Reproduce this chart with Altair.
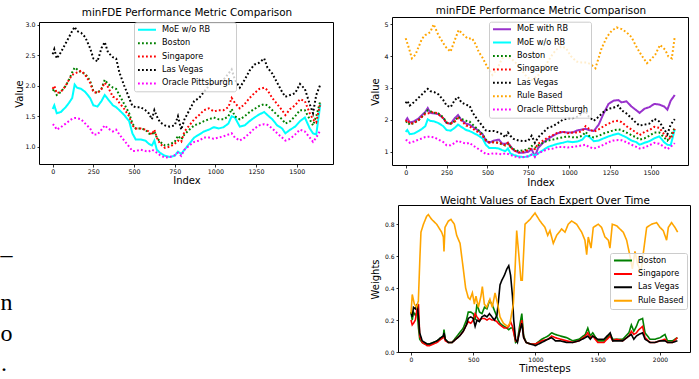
import altair as alt
import pandas as pd

FONT = "DejaVu Sans"
W, H = 699, 379

# ---------------- minFDE series (shared by both top panels) ----------------
idx_ab = [0, 10, 25, 50, 80, 100, 120, 135, 150, 175, 200, 230, 250, 275, 300, 320, 340, 370, 390, 410,
          440, 470, 490, 510, 540, 570, 590, 610, 625, 640, 660, 690, 720, 750, 770, 790, 810, 840, 870, 900,
          930, 960, 990, 1020, 1050, 1080, 1100, 1120, 1150, 1180, 1210, 1240, 1270, 1300, 1320, 1350, 1380,
          1410, 1430, 1460, 1490, 1520, 1550, 1580, 1600, 1620, 1645]
las_vegas = [2.52, 2.60, 2.45, 2.55, 2.70, 2.80, 2.90, 2.97, 2.90, 2.87, 2.80, 2.62, 2.45, 2.40, 2.62, 2.72,
             2.55, 2.47, 2.45, 2.22, 2.00, 1.80, 1.67, 1.65, 1.65, 1.60, 1.55, 1.45, 1.60, 1.50, 1.40, 1.35,
             1.33, 1.35, 1.50, 1.28, 1.45, 1.60, 1.75, 1.80, 1.90, 2.00, 2.05, 2.05, 2.10, 2.20, 2.27, 2.10,
             1.97, 2.10, 2.25, 2.35, 2.38, 2.45, 2.30, 2.20, 2.05, 1.90, 1.82, 1.85, 1.88, 2.03, 1.95, 1.70,
             1.55, 1.85, 2.02]
boston = [1.92, 1.95, 1.85, 1.90, 2.00, 2.10, 2.22, 2.30, 2.27, 2.22, 2.20, 2.08, 1.92, 1.88, 1.95, 2.10,
          2.03, 1.97, 1.95, 1.85, 1.70, 1.55, 1.38, 1.30, 1.30, 1.28, 1.22, 1.20, 1.25, 1.15, 1.08, 1.02,
          1.04, 1.08, 1.18, 1.12, 1.20, 1.28, 1.35, 1.38, 1.42, 1.45, 1.48, 1.45, 1.45, 1.50, 1.62, 1.50,
          1.45, 1.50, 1.57, 1.62, 1.67, 1.70, 1.68, 1.60, 1.52, 1.45, 1.38, 1.42, 1.50, 1.60, 1.60, 1.45,
          1.35, 1.50, 1.75]
singapore = [1.95, 2.00, 1.88, 1.90, 2.00, 2.10, 2.18, 2.20, 2.22, 2.25, 2.18, 2.05, 1.90, 1.88, 1.95, 2.05,
             1.98, 1.82, 1.80, 1.72, 1.62, 1.50, 1.35, 1.30, 1.30, 1.28, 1.25, 1.20, 1.28, 1.15, 1.05, 0.98,
             1.00, 1.05, 1.10, 1.08, 1.25, 1.35, 1.45, 1.52, 1.60, 1.63, 1.58, 1.60, 1.60, 1.65, 1.80, 1.72,
             1.63, 1.70, 1.80, 1.88, 1.95, 1.97, 1.93, 1.80, 1.70, 1.60, 1.52, 1.62, 1.68, 1.78, 1.75, 1.55,
             1.45, 1.40, 1.72]
moe_wo_rb = [1.62, 1.68, 1.55, 1.57, 1.65, 1.72, 1.80, 2.02, 1.97, 1.95, 1.90, 1.80, 1.68, 1.66, 1.75, 1.85,
             1.78, 1.68, 1.65, 1.60, 1.52, 1.42, 1.22, 1.12, 1.12, 1.10, 1.05, 1.02, 1.10, 0.95, 0.90, 0.85,
             0.83, 0.85, 0.92, 0.88, 0.95, 1.05, 1.15, 1.20, 1.25, 1.28, 1.32, 1.30, 1.32, 1.38, 1.50, 1.48,
             1.33, 1.35, 1.42, 1.48, 1.53, 1.57, 1.52, 1.45, 1.35, 1.30, 1.22, 1.28, 1.33, 1.42, 1.48, 1.30,
             1.22, 1.20, 1.70]
oracle_pitt = [1.37, 1.35, 1.28, 1.32, 1.38, 1.42, 1.46, 1.47, 1.47, 1.45, 1.38, 1.30, 1.20, 1.20, 1.28, 1.35,
               1.30, 1.25, 1.28, 1.20, 1.10, 1.00, 0.93, 0.93, 0.95, 0.93, 0.92, 0.95, 0.93, 0.90, 0.86, 0.82,
               0.83, 0.86, 0.90, 0.85, 0.95, 1.02, 1.08, 1.10, 1.15, 1.15, 1.13, 1.15, 1.17, 1.20, 1.22, 1.15,
               1.10, 1.15, 1.22, 1.30, 1.35, 1.37, 1.36, 1.30, 1.22, 1.15, 1.10, 1.13, 1.20, 1.28, 1.25, 1.15,
               1.08, 1.15, 1.27]
moe_with_rb = [1.97, 2.05, 1.92, 1.95, 2.05, 2.15, 2.25, 2.37, 2.22, 2.20, 2.18, 2.05, 1.90, 1.88, 2.05, 2.15,
               2.00, 1.88, 1.85, 1.78, 1.68, 1.55, 1.35, 1.28, 1.35, 1.38, 1.25, 1.25, 1.28, 1.18, 1.05, 0.97,
               0.97, 1.00, 1.08, 0.85, 1.12, 1.28, 1.40, 1.50, 1.58, 1.62, 1.60, 1.60, 1.67, 1.70, 1.72, 1.68,
               1.65, 1.85, 2.20, 2.50, 2.60, 2.62, 2.55, 2.58, 2.42, 2.30, 2.22, 2.35, 2.40, 2.50, 2.48, 2.42,
               2.32, 2.60, 2.78]
idx_rule = [0, 20, 38, 60, 80, 100, 120, 150, 171, 200, 225, 243, 274, 300, 324, 355, 380, 406, 430, 446,
            470, 500, 530, 560, 590, 620, 650, 680, 710, 740, 770, 800, 830, 860, 890, 920, 950, 980, 1010,
            1045, 1075, 1106, 1130, 1160, 1198, 1230, 1260, 1290, 1320, 1350, 1380, 1410, 1440, 1475, 1500,
            1525, 1555, 1586, 1606, 1627, 1645]
rule_based = [4.56, 4.25, 3.93, 4.05, 4.30, 4.55, 4.66, 4.75, 5.00, 4.66, 4.45, 4.30, 4.14, 4.50, 4.82, 4.66,
              4.55, 4.56, 4.35, 4.14, 3.95, 3.65, 3.41, 3.60, 3.93, 4.00, 3.90, 3.75, 3.55, 3.35, 3.25, 3.35,
              3.50, 3.75, 4.00, 4.20, 4.30, 4.25, 4.00, 3.83, 3.80, 3.80, 3.75, 3.62, 4.25, 4.60, 4.80, 4.90,
              4.85, 4.75, 4.60, 4.30, 4.04, 3.78, 3.90, 4.04, 4.35, 4.20, 3.99, 3.93, 4.61]

# ---------------- expert weights over time ----------------
idx_w = [0, 10, 20, 35, 50, 60, 70, 90, 110, 130, 150, 180, 210, 240, 260, 265, 275, 300, 330, 360, 390, 420,
         445, 460, 480, 500, 515, 530, 550, 570, 590, 610, 630, 650, 670, 690, 700, 715, 730, 750, 770, 785,
         800, 815, 825, 840, 855, 870, 890, 905, 925, 960, 1000, 1050, 1100, 1130, 1160, 1200, 1250, 1300,
         1350, 1400, 1420, 1440, 1460, 1500, 1550, 1600, 1620, 1650, 1700, 1750, 1770, 1790, 1810, 1830,
         1860, 1880, 1920, 1960, 2000, 2040, 2060, 2100, 2140]
w_boston = [0.25, 0.20, 0.25, 0.23, 0.25, 0.15, 0.08, 0.06, 0.05, 0.05, 0.05, 0.06, 0.07, 0.09, 0.10, 0.14,
            0.08, 0.06, 0.06, 0.09, 0.12, 0.15, 0.20, 0.25, 0.25, 0.24, 0.20, 0.30, 0.25, 0.24, 0.28, 0.27,
            0.32, 0.30, 0.26, 0.22, 0.20, 0.18, 0.17, 0.16, 0.15, 0.14, 0.15, 0.15, 0.13, 0.06, 0.07, 0.15,
            0.24, 0.10, 0.06, 0.05, 0.05, 0.08, 0.10, 0.12, 0.11, 0.10, 0.09, 0.07, 0.08, 0.11, 0.15, 0.10,
            0.12, 0.07, 0.07, 0.11, 0.08, 0.08, 0.08, 0.12, 0.17, 0.13, 0.16, 0.20, 0.21, 0.12, 0.08, 0.08,
            0.09, 0.11, 0.07, 0.07, 0.09]
w_singapore = [0.20, 0.17, 0.18, 0.20, 0.28, 0.30, 0.10, 0.06, 0.05, 0.04, 0.04, 0.05, 0.06, 0.08, 0.09, 0.11,
               0.07, 0.06, 0.06, 0.08, 0.10, 0.13, 0.17, 0.19, 0.18, 0.20, 0.24, 0.22, 0.20, 0.21, 0.21, 0.20,
               0.21, 0.20, 0.20, 0.19, 0.18, 0.17, 0.16, 0.15, 0.15, 0.16, 0.19, 0.16, 0.12, 0.07, 0.07, 0.12,
               0.20, 0.09, 0.06, 0.05, 0.05, 0.07, 0.08, 0.10, 0.09, 0.08, 0.07, 0.06, 0.07, 0.10, 0.12, 0.09,
               0.10, 0.06, 0.06, 0.10, 0.07, 0.08, 0.07, 0.10, 0.13, 0.11, 0.12, 0.14, 0.16, 0.09, 0.06, 0.06,
               0.07, 0.08, 0.06, 0.06, 0.09]
w_las_vegas = [0.25, 0.22, 0.28, 0.27, 0.30, 0.22, 0.12, 0.07, 0.06, 0.05, 0.05, 0.06, 0.07, 0.09, 0.10, 0.12,
               0.08, 0.06, 0.06, 0.08, 0.10, 0.13, 0.17, 0.21, 0.22, 0.21, 0.16, 0.20, 0.19, 0.22, 0.23, 0.22,
               0.24, 0.22, 0.20, 0.23, 0.30, 0.42, 0.45, 0.48, 0.52, 0.54, 0.48, 0.35, 0.20, 0.08, 0.06, 0.12,
               0.18, 0.09, 0.06, 0.05, 0.04, 0.06, 0.08, 0.09, 0.07, 0.07, 0.06, 0.06, 0.07, 0.09, 0.10, 0.08,
               0.10, 0.08, 0.08, 0.12, 0.07, 0.07, 0.07, 0.10, 0.11, 0.08, 0.10, 0.11, 0.12, 0.08, 0.06, 0.06,
               0.07, 0.07, 0.06, 0.06, 0.07]
idx_w_rule = [0, 10, 27, 45, 59, 72, 80, 100, 126, 139, 166, 206, 246, 260, 265, 273, 300, 321, 348, 367, 394,
              420, 439, 460, 474, 493, 509, 522, 541, 562, 573, 589, 608, 634, 653, 675, 696, 715, 742, 776, 795,
              822, 835, 849, 867, 883, 894, 916, 956, 996, 1036, 1076, 1098, 1116, 1143, 1170, 1210, 1237, 1263,
              1290, 1330, 1371, 1397, 1411, 1424, 1446, 1464, 1504, 1531, 1558, 1585, 1598, 1617, 1652, 1678,
              1705, 1732, 1759, 1778, 1799, 1820, 1847, 1866, 1893, 1933, 1973, 2000, 2026, 2053, 2067, 2093,
              2120, 2142]
w_rule_based = [0.24, 0.36, 0.30, 0.28, 0.32, 0.60, 0.75, 0.80, 0.85, 0.86, 0.83, 0.80, 0.75, 0.72, 0.63, 0.78,
                0.82, 0.83, 0.80, 0.73, 0.68, 0.52, 0.40, 0.34, 0.33, 0.37, 0.30, 0.35, 0.28, 0.35, 0.41, 0.30,
                0.28, 0.33, 0.28, 0.37, 0.30, 0.22, 0.18, 0.16, 0.18, 0.30, 0.50, 0.76, 0.60, 0.45, 0.45, 0.80,
                0.83, 0.87, 0.82, 0.78, 0.73, 0.76, 0.68, 0.73, 0.77, 0.75, 0.80, 0.82, 0.80, 0.75, 0.70, 0.61,
                0.72, 0.65, 0.78, 0.80, 0.78, 0.72, 0.70, 0.65, 0.80, 0.79, 0.77, 0.75, 0.70, 0.60, 0.52, 0.63,
                0.55, 0.50, 0.62, 0.78, 0.80, 0.81, 0.78, 0.76, 0.70, 0.78, 0.81, 0.78, 0.75]

# ---------------- paper text fragments at the lower left ----------------
frag_text = ["\u2013", "n", "o", "."]
frag_x = [0.5, 0.5, 0.5, 1.0]
frag_y = [262, 310, 341, 371]

# ---------------- ticks ----------------
ticks_index = [0, 250, 500, 750, 1000, 1250, 1500]
ticks_a_val = [1.0, 1.5, 2.0, 2.5, 3.0]
ticks_b_val = [1, 2, 3, 4, 5]
ticks_time = [0, 500, 1000, 1500, 2000]
ticks_w = [0.0, 0.2, 0.4, 0.6, 0.8]

SOLID = [1, 0]
DOT = [1.8, 2.2]


def long_df(idx, series):
    wide = pd.DataFrame({"x": idx, **series})
    return wide.melt("x", var_name="series", value_name="y")


def panel(df, order, colors, dashes, xdom, xr, ydom, yr, xvals, yvals, xfmt, yfmt,
          xtitle, ytitle, title, xtitle_y, ytitle_x, title_y, leg_xy, line_w, tick_fs):
    xs = alt.Scale(domain=xdom, range=xr, nice=False, zero=False)
    ys = alt.Scale(domain=ydom, range=yr, nice=False, zero=False)
    xc = (xr[0] + xr[1]) / 2
    yc = (yr[0] + yr[1]) / 2
    common = dict(grid=False, domain=False, tickColor="black", tickWidth=0.8, tickSize=2.5,
                  labelFont=FONT, labelColor="black", labelFontSize=tick_fs,
                  titleFont=FONT, titleColor="black", titleFontWeight="normal",
                  titleBaseline="middle", titleAlign="center", labelOverlap=False, labelFlush=False)
    xaxis = alt.Axis(orient="bottom", offset=yr[0] - H, values=xvals, format=xfmt, title=xtitle,
                     titleFontSize=10, titleX=xc, titleY=xtitle_y - yr[0], labelPadding=1.5, **common)
    yaxis = alt.Axis(orient="left", offset=-xr[0], values=yvals, format=yfmt, title=ytitle,
                     titleFontSize=10, titleX=ytitle_x - xr[0], titleY=yc, labelPadding=2, **common)
    legend = alt.Legend(orient="none", legendX=leg_xy[0], legendY=leg_xy[1], title=None,
                        symbolType="stroke", symbolSize=324, symbolStrokeWidth=2,
                        labelFont=FONT, labelFontSize=8.2, labelColor="black", labelOffset=5,
                        clipHeight=9, rowPadding=3.4, padding=3,
                        fillColor="rgba(255,255,255,0.8)", strokeColor="#cccccc", cornerRadius=2)
    lines = alt.Chart(df).mark_line(strokeWidth=line_w).encode(
        x=alt.X("x:Q", scale=xs, axis=xaxis),
        y=alt.Y("y:Q", scale=ys, axis=yaxis),
        color=alt.Color("series:N", scale=alt.Scale(domain=order, range=colors), legend=legend),
        strokeDash=alt.StrokeDash("series:N", scale=alt.Scale(domain=order, range=dashes), legend=legend),
    )
    fdf = pd.DataFrame({"x0": [xdom[0]], "x1": [xdom[1]], "y0": [ydom[0]], "y1": [ydom[1]]})
    taxis = alt.Axis(orient="top", offset=-yr[1], title=title, labels=False, ticks=False, domain=False,
                     grid=False, titleFont=FONT, titleFontSize=10.4, titleFontWeight="normal",
                     titleColor="black", titleBaseline="middle", titleAlign="center",
                     titleX=xc, titleY=title_y - yr[1])
    frame = alt.Chart(fdf).mark_rect(fillOpacity=0, stroke="black", strokeWidth=1).encode(
        x=alt.X("x0:Q", scale=xs, axis=taxis), x2="x1",
        y=alt.Y("y0:Q", scale=ys, axis=None), y2="y1",
    )
    return alt.layer(lines, frame).resolve_axis(x="independent", y="independent")


# Panel A
order_a = ["MoE w/o RB", "Boston", "Singapore", "Las Vegas", "Oracle Pittsburgh"]
df_a = long_df(idx_ab, {"MoE w/o RB": moe_wo_rb, "Boston": boston, "Singapore": singapore,
                        "Las Vegas": las_vegas, "Oracle Pittsburgh": oracle_pitt})
pA = panel(df_a, order_a, ["#00ffff", "#008000", "#ff0000", "#000000", "#ff00ff"],
           [SOLID, DOT, DOT, DOT, DOT],
           [-81, 1726], [39.5, 333.5], [0.7075, 3.041], [164.5, 22.5],
           ticks_index, ticks_a_val, "d", ".1f", "Index", "Value",
           "minFDE Performance Metric Comparison", 180.7, 19, 12, (134, 22.3), 2, 6.3)

# Panel B
order_b = ["MoE with RB", "MoE w/o RB", "Boston", "Singapore", "Las Vegas", "Rule Based", "Oracle Pittsburgh"]
df_b1 = long_df(idx_ab, {"MoE with RB": moe_with_rb, "MoE w/o RB": moe_wo_rb, "Boston": boston,
                         "Singapore": singapore, "Las Vegas": las_vegas})
df_b2 = long_df(idx_rule, {"Rule Based": rule_based})
df_b3 = long_df(idx_ab, {"Oracle Pittsburgh": oracle_pitt})
df_b = pd.concat([df_b1, df_b2, df_b3], ignore_index=True)
pB = panel(df_b, order_b, ["#9932cc", "#00ffff", "#008000", "#ff0000", "#000000", "#ffa500", "#ff00ff"],
           [SOLID, SOLID, DOT, DOT, DOT, DOT, DOT],
           [-80.5, 1729], [392.5, 688.5], [0.567, 5.213], [165.5, 17.5],
           ticks_index, ticks_b_val, "d", "d", "Index", "Value",
           "minFDE Performance Metric Comparison", 182.3, 375.7, 10, (489, 21.7), 2, 6.3)

# Panel C
order_c = ["Boston", "Singapore", "Las Vegas", "Rule Based"]
df_c1 = long_df(idx_w, {"Boston": w_boston, "Singapore": w_singapore, "Las Vegas": w_las_vegas})
df_c2 = long_df(idx_w_rule, {"Rule Based": w_rule_based})
df_c = pd.concat([df_c1, df_c2], ignore_index=True)
pC = panel(df_c, order_c, ["#008000", "#ff0000", "#000000", "#ffa500"],
           [SOLID, SOLID, SOLID, SOLID],
           [-100.4, 2245], [398.5, 690.5], [-0.003, 0.917], [352.5, 205.5],
           ticks_time, ticks_w, "d", ".1f", "Timesteps", "Weights",
           "Weight Values of Each Expert Over Time", 368.3, 375.7, 200, (610, 253), 1.6, 6.0)

# Paper text fragments
df_t = pd.DataFrame({"t": frag_text, "px": frag_x, "py": frag_y})
txt = alt.Chart(df_t).mark_text(font="Liberation Serif", fontSize=24, align="left",
                                baseline="alphabetic", color="black").encode(
    x=alt.X("px:Q", scale=alt.Scale(domain=[0, W], range=[0, W]), axis=None),
    y=alt.Y("py:Q", scale=alt.Scale(domain=[0, H], range=[0, H]), axis=None),
    text="t:N",
)

chart = (
    alt.layer(pA, pB, pC, txt)
    .resolve_scale(x="independent", y="independent", color="independent", strokeDash="independent")
    .resolve_axis(x="independent", y="independent")
    .resolve_legend(color="independent", strokeDash="independent")
    .properties(width=W, height=H, padding=0, autosize=alt.AutoSizeParams(type="none"),
                background="white")
    .configure_view(stroke="transparent")
)

chart.save("out.html", embed_options={"renderer": "svg", "actions": False})
